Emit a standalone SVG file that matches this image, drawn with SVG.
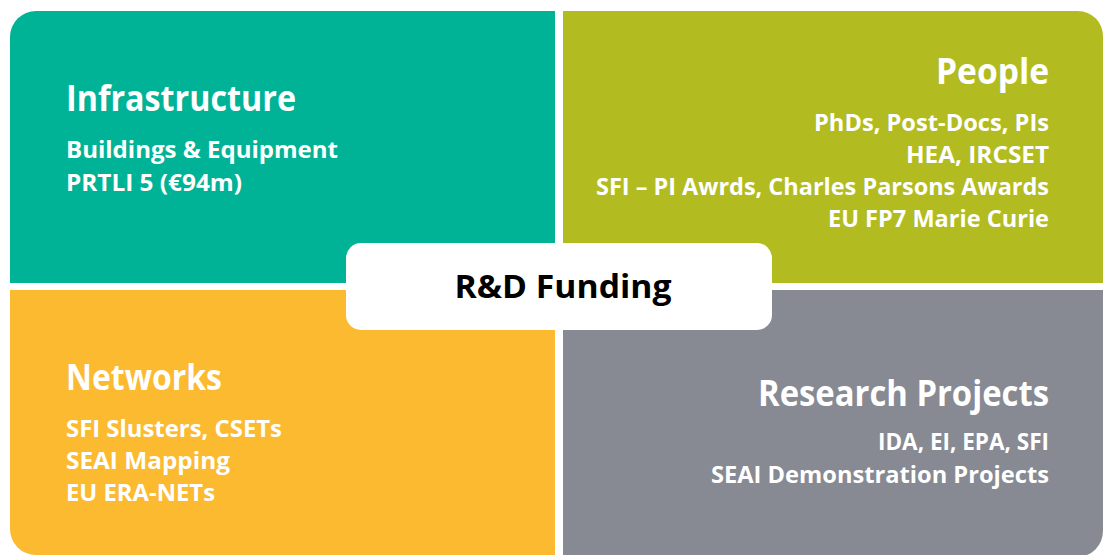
<svg xmlns="http://www.w3.org/2000/svg" width="1103" height="555" viewBox="0 0 1103 555">
<style>
text{font-family:"Open Sans","Noto Sans","Liberation Sans",sans-serif;font-weight:bold;fill:#ffffff}
.t{font-size:35px}
.b{font-size:23px}
.r{text-anchor:end}
.c{font-size:32px;fill:#000000;text-anchor:middle}
</style>
<rect width="1103" height="555" fill="#ffffff"/>
<g id="infrastructure">
<path d="M10 37 A26 26 0 0 1 36 11 H555 V283 H10 Z" fill="#00B396"/>
<text class="t" x="66" y="111" textLength="230" lengthAdjust="spacingAndGlyphs">Infrastructure</text>
<text class="b" x="66" y="158" textLength="272" lengthAdjust="spacingAndGlyphs">Buildings &amp; Equipment</text>
<text class="b" x="66" y="191" textLength="176" lengthAdjust="spacingAndGlyphs">PRTLI 5 (€94m)</text>
</g>
<g id="people">
<path d="M563 11 H1078 A25 25 0 0 1 1103 36 V283 H563 Z" fill="#B2BC20"/>
<text class="t r" x="1049" y="84" textLength="113" lengthAdjust="spacingAndGlyphs">People</text>
<text class="b r" x="1049" y="131" textLength="235" lengthAdjust="spacingAndGlyphs">PhDs, Post-Docs, PIs</text>
<text class="b r" x="1049" y="163" textLength="143" lengthAdjust="spacingAndGlyphs">HEA, IRCSET</text>
<text class="b r" x="1049" y="195" textLength="453" lengthAdjust="spacingAndGlyphs">SFI – PI Awrds, Charles Parsons Awards</text>
<text class="b r" x="1049" y="227" textLength="221" lengthAdjust="spacingAndGlyphs">EU FP7 Marie Curie</text>
</g>
<g id="networks">
<path d="M10 290 H555 V555 H36 A26 26 0 0 1 10 529 Z" fill="#FBBA30"/>
<text class="t" x="66" y="390" textLength="156" lengthAdjust="spacingAndGlyphs">Networks</text>
<text class="b" x="66" y="437" textLength="216" lengthAdjust="spacingAndGlyphs">SFI Slusters, CSETs</text>
<text class="b" x="66" y="469" textLength="164" lengthAdjust="spacingAndGlyphs">SEAI Mapping</text>
<text class="b" x="66" y="501" textLength="149" lengthAdjust="spacingAndGlyphs">EU ERA-NETs</text>
</g>
<g id="research-projects">
<path d="M563 290 H1103 V531 A26 26 0 0 1 1077 557 H563 Z" fill="#878A93"/>
<text class="t r" x="1049" y="406" textLength="291" lengthAdjust="spacingAndGlyphs">Research Projects</text>
<text class="b r" x="1049" y="450" textLength="171" lengthAdjust="spacingAndGlyphs">IDA, EI, EPA, SFI</text>
<text class="b r" x="1049" y="483" textLength="338" lengthAdjust="spacingAndGlyphs">SEAI Demonstration Projects</text>
</g>
<g id="rd-funding">
<rect x="346" y="243" width="426" height="87" rx="15" ry="15" fill="#ffffff"/>
<text class="c" x="563" y="298" textLength="217" lengthAdjust="spacingAndGlyphs">R&amp;D Funding</text>
</g>
</svg>
